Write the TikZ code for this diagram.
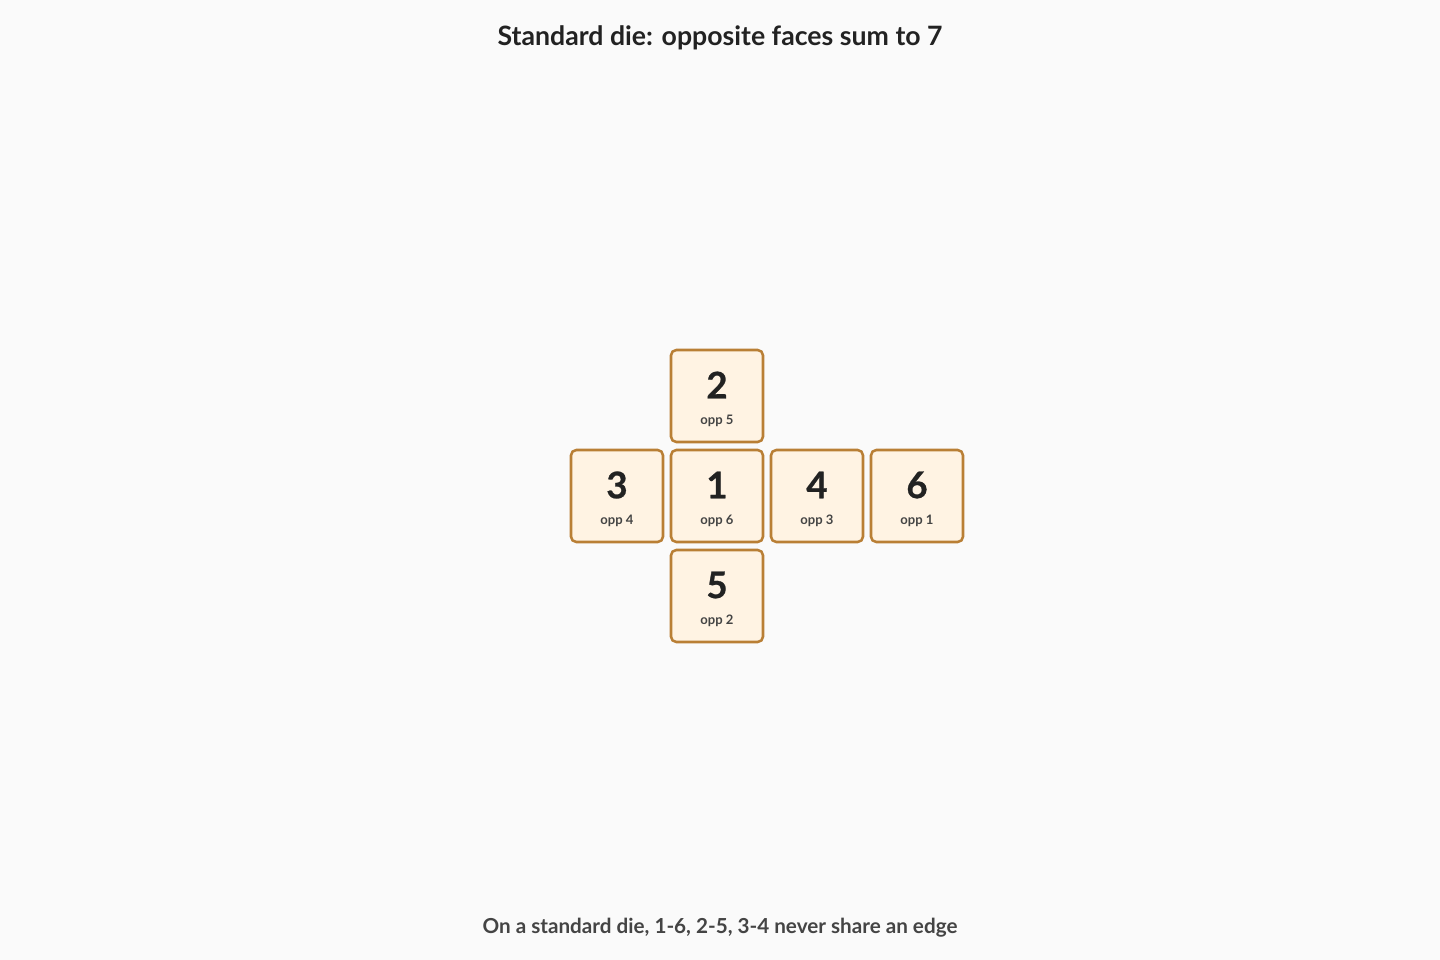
\documentclass[tikz,border=0pt]{standalone}
\usepackage{fontspec}
\setmainfont{Lato}
\newfontfamily\heavyfont{Lato}[BoldFeatures={FakeBold=0.7}]
\definecolor{bg}{HTML}{FAFAFA}
\definecolor{facefill}{HTML}{FFF3E3}
\definecolor{facedraw}{HTML}{B97F35}
\definecolor{ink}{HTML}{222222}
\definecolor{sub}{HTML}{444444}
\begin{document}
\begin{tikzpicture}[x=0.75pt,y=-0.75pt,
  face/.style={draw=facedraw,fill=facefill,line width=1.9pt,rounded corners=4pt,minimum width=69pt,minimum height=69pt,inner sep=0pt},
  big/.style={font=\fontsize{27.5}{30}\selectfont\heavyfont\bfseries,text=ink},
  small/.style={font=\fontsize{9.8}{11}\selectfont\bfseries,text=sub}]
\fill[bg] (0,0) rectangle (1440,960);
\useasboundingbox (0,0) rectangle (1440,960);
\node[font=\fontsize{20}{22}\selectfont\bfseries,text=ink] (title) at (720,38) {Standard die: opposite faces sum to 7};
\node[font=\fontsize{15.5}{18}\selectfont\bfseries,text=sub] (note) at (720,928) {On a standard die, 1-6, 2-5, 3-4 never share an edge};
\foreach \n/\x/\y/\o in {2/717/396/5, 3/617/496/4, 1/717/496/6, 4/817/496/3, 6/917/496/1, 5/717/596/2}{
  \node[face] (f\n) at (\x,\y) {};
  \node[big] (d\n) at (\x,\y-11) {\n};
  \node[small] (o\n) at (\x,\y+25) {opp \o};
}
\end{tikzpicture}
\end{document}
